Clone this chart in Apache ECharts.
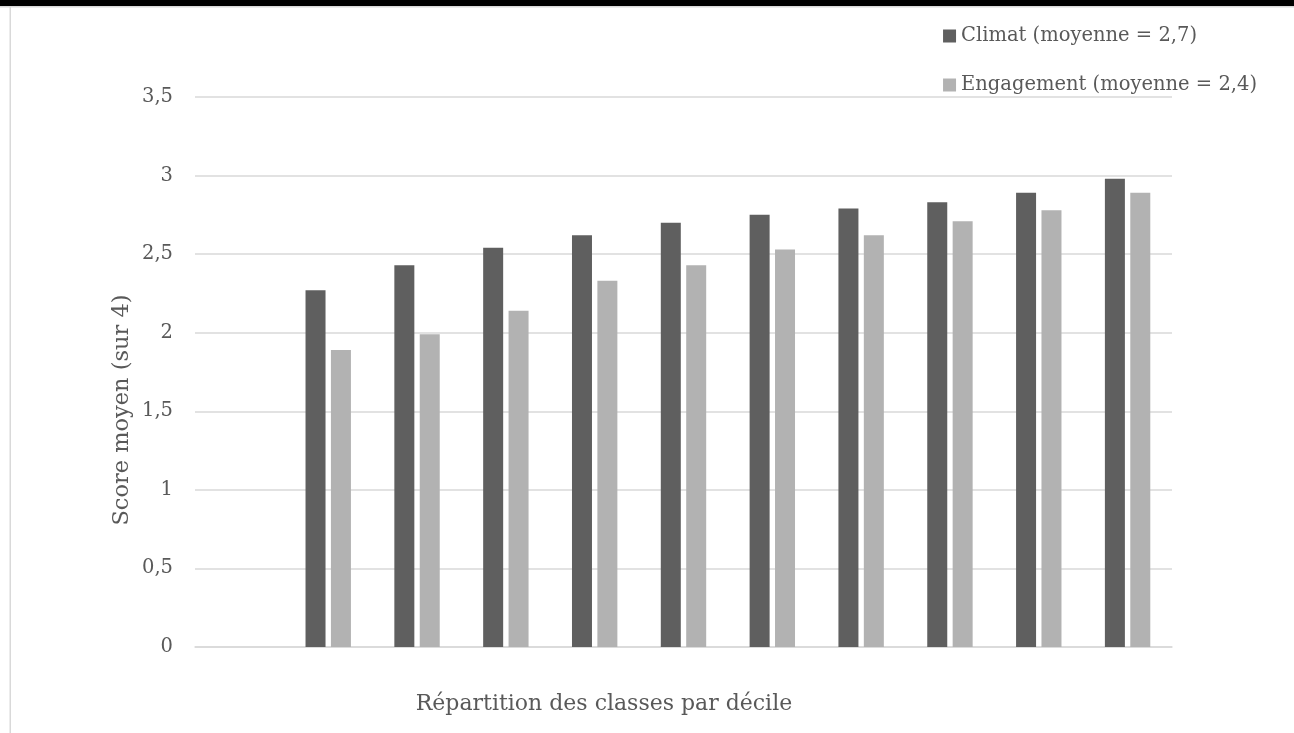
<!DOCTYPE html>
<html><head><meta charset="utf-8">
<script src="https://cdn.jsdelivr.net/npm/echarts@6/dist/echarts.min.js"></script>
<style>html,body{margin:0;padding:0;background:#fff}#c{width:1294px;height:733px}</style>
</head><body><div id="c"></div>
<script>
const categories = ['', 'D1', 'D2', 'D3', 'D4', 'D5', 'D6', 'D7', 'D8', 'D9', 'D10'];
const climat = [null, 2.27, 2.43, 2.54, 2.62, 2.70, 2.75, 2.79, 2.83, 2.89, 2.98];
const engagement = [null, 1.89, 1.99, 2.14, 2.33, 2.43, 2.53, 2.62, 2.71, 2.78, 2.89];
const seriesNames = ['Climat (moyenne = 2,7)', 'Engagement (moyenne = 2,4)'];
const yTitle = 'Score moyen (sur 4)';
const xTitle = 'Répartition des classes par décile';

const FONT = 'DejaVu Serif';
const TXT = '#595959';
const chart = echarts.init(document.getElementById('c'));
chart.setOption({
  animation: false,
  textStyle: { fontFamily: FONT },
  grid: { left: 195, right: 122, top: 97, bottom: 86 },
  legend: {
    orient: 'vertical', right: 32, top: 21, itemGap: 29,
    itemWidth: 13, itemHeight: 13, icon: 'rect',
    textStyle: { fontFamily: FONT, fontSize: 19.5, color: TXT },
    data: seriesNames
  },
  xAxis: {
    type: 'category', data: categories,
    axisLine: { show: true, lineStyle: { color: '#d9d9d9', width: 1.5 } },
    axisTick: { show: false }, axisLabel: { show: false }
  },
  yAxis: {
    type: 'value', min: 0, max: 3.5, interval: 0.5,
    axisLine: { show: false }, axisTick: { show: false },
    axisLabel: { fontFamily: FONT, fontSize: 19.5, color: TXT, margin: 22,
      formatter: v => String(v).replace('.', ',') },
    splitLine: { lineStyle: { color: '#d9d9d9', width: 1.5 } }
  },
  series: [
    { name: seriesNames[0], type: 'bar', data: climat, barWidth: 20, barGap: '27%',
      itemStyle: { color: '#5f5f5f' } },
    { name: seriesNames[1], type: 'bar', data: engagement, barWidth: 20,
      itemStyle: { color: '#b2b2b2' } }
  ],
  graphic: [
    { type: 'rect', left: 0, top: 0, shape: { width: 1294, height: 6 }, style: { fill: '#000' } },
    { type: 'rect', left: 0, top: 6, shape: { width: 1294, height: 1.5 }, style: { fill: '#d9d9d9' } },
    { type: 'rect', left: 9.5, top: 7, shape: { width: 1.5, height: 726 }, style: { fill: '#d9d9d9' } },
    { type: 'text', x: 122, y: 410, rotation: Math.PI / 2,
      style: { text: yTitle, font: '22.5px "DejaVu Serif"', fill: TXT, align: 'center', verticalAlign: 'middle' } },
    { type: 'text', x: 604, y: 704,
      style: { text: xTitle, font: '22px "DejaVu Serif"', fill: TXT, align: 'center', verticalAlign: 'middle' } }
  ]
});
</script></body></html>
